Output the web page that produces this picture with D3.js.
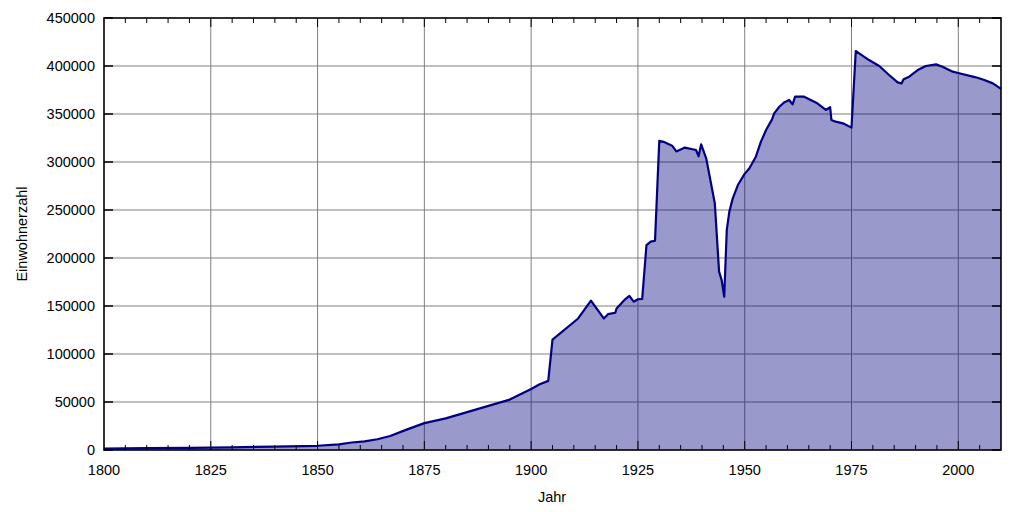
<!DOCTYPE html>
<html><head><meta charset="utf-8">
<script src="https://cdn.jsdelivr.net/npm/d3@7"></script>
<style>body{margin:0;background:#fff}svg{display:block}text{font-family:"Liberation Sans",Arial,sans-serif}</style>
</head><body>
<svg id="c" width="1024" height="512"></svg>
<script>
const years = [1800,1810,1820,1830,1840,1850,1855,1858,1861,1864,1867,1871,1875,1880,1885,1890,1895,1900,1902,1904,1905,1911,1914,1917,1918,1919.7,1920,1922,1923,1924,1925,1926,1927,1928,1929,1930,1931,1933,1934,1936,1938.6,1939.2,1939.8,1941,1943,1944,1944.6,1945.2,1945.8,1946.4,1947.2,1948.4,1949.9,1951.1,1952.6,1953.8,1955,1956.4,1956.9,1958.1,1959.2,1960.4,1961.2,1961.8,1963.9,1967,1969,1970,1970.3,1971.3,1973,1975,1976,1976.8,1979.1,1981.5,1983.8,1985.8,1986.7,1987.2,1988.5,1990.5,1992.4,1994.8,1996.3,1998.7,2000.2,2003.4,2004.5,2006.1,2008.1,2010];
const population = [1500,2000,2300,2800,3600,4400,5800,7800,9000,11200,14600,21500,28000,33000,39500,46000,52500,63500,68500,72000,115000,137000,155500,137000,141500,143000,147500,157000,160500,154500,157000,157500,213500,217000,218000,322000,321000,317000,311000,315000,312500,306000,318400,303500,257000,185800,177000,159700,229200,248300,262100,276000,287100,293400,305500,321200,333300,344400,350700,357600,362000,364600,360100,368000,368000,361100,354200,357000,343800,342000,340300,335800,415600,413200,406200,400000,390600,383000,381900,386100,388900,395800,400000,401700,399300,394100,392400,388900,387800,385400,381900,376200];
const xTicks = [1800,1825,1850,1875,1900,1925,1950,1975,2000];
const yTicks = [0,50000,100000,150000,200000,250000,300000,350000,400000,450000];
const xTitle = "Jahr", yTitle = "Einwohnerzahl";

const L=104,T=18,R=1001,B=450;
const svg=d3.select("#c");
const x=d3.scaleLinear().domain([1800,2010]).range([L,R]);
const y=d3.scaleLinear().domain([0,450000]).range([B,T]);
const data=years.map((d,i)=>({yr:d,v:population[i]}));

// grid
svg.append("g").selectAll("line").data(xTicks.slice(1)).join("line")
 .attr("x1",d=>x(d)).attr("x2",d=>x(d)).attr("y1",T).attr("y2",B)
 .attr("stroke","#808080").attr("stroke-width",1);
svg.append("g").selectAll("line").data(yTicks.slice(1,-1)).join("line")
 .attr("x1",L).attr("x2",R).attr("y1",d=>y(d)).attr("y2",d=>y(d))
 .attr("stroke","#808080").attr("stroke-width",1);

// area
svg.append("path").datum(data)
 .attr("d",d3.area().x(d=>x(d.yr)).y0(y(0)).y1(d=>y(d.v)))
 .attr("fill","#000080").attr("fill-opacity",0.4);
svg.append("path").datum(data)
 .attr("d",d3.line().x(d=>x(d.yr)).y(d=>y(d.v)))
 .attr("fill","none").attr("stroke","#000080").attr("stroke-width",2.2).attr("stroke-linejoin","round");

// minor ticks
const minor=d3.range(1805,2010,5);
svg.append("g").selectAll("line").data(minor).join("line")
 .attr("x1",d=>x(d)).attr("x2",d=>x(d)).attr("y1",B).attr("y2",d=>B-(d%25===0?9:5))
 .attr("stroke","#000").attr("stroke-width",1);
svg.append("g").selectAll("line").data(minor).join("line")
 .attr("x1",d=>x(d)).attr("x2",d=>x(d)).attr("y1",T).attr("y2",d=>T+(d%25===0?9:5))
 .attr("stroke","#000").attr("stroke-width",1);
// y ticks
svg.append("g").selectAll("line").data(yTicks).join("line")
 .attr("x1",L).attr("x2",L+9).attr("y1",d=>y(d)).attr("y2",d=>y(d)).attr("stroke","#000").attr("stroke-width",1.5);
svg.append("g").selectAll("line").data(yTicks).join("line")
 .attr("x1",R).attr("x2",R-9).attr("y1",d=>y(d)).attr("y2",d=>y(d)).attr("stroke","#000").attr("stroke-width",1.5);

// frame
svg.append("rect").attr("x",L).attr("y",T).attr("width",R-L).attr("height",B-T)
 .attr("fill","none").attr("stroke","#000").attr("stroke-width",1.6);

// labels
svg.append("g").selectAll("text").data(yTicks).join("text")
 .attr("x",95).attr("y",d=>y(d)+5).attr("text-anchor","end").attr("font-size",14.5).attr("fill","#000")
 .text(d=>d);
svg.append("g").selectAll("text").data(xTicks).join("text")
 .attr("x",d=>x(d)).attr("y",475).attr("text-anchor","middle").attr("font-size",14.5).attr("fill","#000")
 .text(d=>d);
svg.append("text").attr("x",552).attr("y",502).attr("text-anchor","middle").attr("font-size",14.5).text(xTitle);
svg.append("text").attr("transform","translate(27,234) rotate(-90)").attr("text-anchor","middle").attr("font-size",14.5).text(yTitle);
</script>
</body></html>
